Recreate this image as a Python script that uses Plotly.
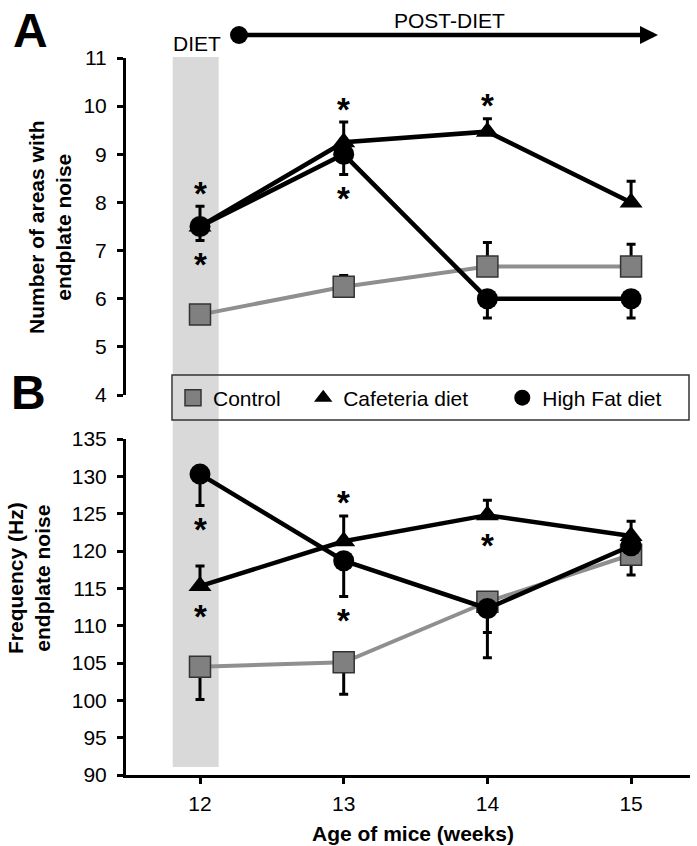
import plotly.graph_objects as go

# ---------------- data ----------------
weeks = [12, 13, 14, 15]
tick_labels = ["12", "13", "14", "15"]

# Panel A: Number of areas with endplate noise
ctrl_A = [5.67, 6.25, 6.67, 6.67]
ctrl_A_up = [0.15, 0.23, 0.50, 0.46]
caf_A = [7.5, 9.25, 9.47, 8.0]
caf_A_up = [0.42, 0.42, 0.27, 0.44]
hf_A = [7.5, 9.0, 6.0, 6.0]
hf_A_down = [0.29, 0.42, 0.40, 0.40]

# Panel B: Frequency (Hz) endplate noise
ctrl_B = [104.5, 105.1, 113.2, 119.5]
ctrl_B_down = [4.4, 4.3, 4.1, 2.7]
caf_B = [115.3, 121.3, 124.8, 122.0]
caf_B_up = [2.7, 3.4, 2.0, 2.0]
hf_B = [130.3, 118.7, 112.3, 120.7]
hf_B_down = [4.2, 4.8, 6.6, 1.0]

series_names = ["Control", "Cafeteria diet", "High Fat diet"]

# significance markers: (week index, series, side)
sig_A = [(0, "caf", "above"), (0, "hf", "below"), (1, "caf", "above"),
         (1, "hf", "below"), (2, "caf", "above")]
sig_B = [(0, "hf", "below"), (0, "caf", "below"), (1, "caf", "above"),
         (1, "hf", "below"), (2, "caf", "below")]

# ---------------- styling ----------------
W, H = 697, 846
FONT = "Liberation Sans, Arial, sans-serif"
zeros = [0, 0, 0, 0]


def px(x):
    return x / W


def py(y):
    return 1 - y / H


styles = {
    "ctrl": dict(line=dict(color="#8f8f8f", width=4),
                 marker=dict(symbol="square", size=21, color="#808080",
                             line=dict(color="#333333", width=1.5))),
    "caf": dict(line=dict(color="black", width=4.5),
                marker=dict(symbol="triangle-up", size=20, color="black")),
    "hf": dict(line=dict(color="black", width=4.5),
               marker=dict(symbol="circle", size=21, color="black")),
}

fig = go.Figure()


def add_series(key, x, y, up, down, yaxis):
    st = styles[key]
    fig.add_trace(go.Scatter(
        x=x, y=y, mode="lines+markers", line=st["line"], marker=st["marker"],
        error_y=dict(type="data", symmetric=False, array=up, arrayminus=down,
                     color="black", thickness=3, width=4.5),
        xaxis="x", yaxis=yaxis, showlegend=False, hoverinfo="x+y"))


add_series("ctrl", weeks, ctrl_A, ctrl_A_up, zeros, "y")
add_series("caf", weeks, caf_A, caf_A_up, zeros, "y")
add_series("hf", weeks, hf_A, zeros, hf_A_down, "y")
add_series("ctrl", weeks, ctrl_B, zeros, ctrl_B_down, "y2")
add_series("caf", weeks, caf_B, caf_B_up, zeros, "y2")
add_series("hf", weeks, hf_B, zeros, hf_B_down, "y2")

# legend entries (marker only)
pads = ["\u00a0" * 3, "\u00a0" * 5, "\u00a0" * 4]
for key, name, pad in zip(["ctrl", "caf", "hf"], series_names, pads):
    st = styles[key]
    fig.add_trace(go.Scatter(x=[None], y=[None], mode="markers",
                             marker=st["marker"], name=name + pad,
                             xaxis="x", yaxis="y2", showlegend=True))

# significance asterisks computed from data
vals = {
    "y": {"ctrl": (ctrl_A, ctrl_A_up, zeros), "caf": (caf_A, caf_A_up, zeros),
          "hf": (hf_A, zeros, hf_A_down)},
    "y2": {"ctrl": (ctrl_B, zeros, ctrl_B_down), "caf": (caf_B, caf_B_up, zeros),
           "hf": (hf_B, zeros, hf_B_down)},
}
annotations = []
for yref, sigs in (("y", sig_A), ("y2", sig_B)):
    for i, key, side in sigs:
        v, up, dn = vals[yref][key]
        if side == "above":
            tip = v[i] + up[i]
            shift = 19 + (10 if up[i] == 0 else 0)
        else:
            tip = v[i] - dn[i]
            shift = -(18 + (6 if dn[i] == 0 else 0))
        annotations.append(dict(x=weeks[i], y=tip, xref="x", yref=yref,
                                text="*", showarrow=False, yshift=shift - 6,
                                font=dict(family=FONT, size=33, color="black",
                                          weight="bold")))

# text annotations
def txt(x, y, text, size, bold=False, angle=0):
    return dict(x=px(x), y=py(y), xref="paper", yref="paper", text=text,
                showarrow=False, textangle=angle, xanchor="center", yanchor="middle",
                font=dict(family=FONT, size=size, color="black",
                          weight="bold" if bold else "normal"))


annotations += [
    txt(30, 30, "A", 48, True),
    txt(29, 392, "B", 48, True),
    txt(197, 44, "DIET", 21),
    txt(449, 21, "POST-DIET", 21),
    txt(50, 227, "Number of areas with<br>endplate noise", 21, True, -90),
    txt(29, 578, "Frequency (Hz)<br>endplate noise", 21, True, -90),
    txt(413, 833, "Age of mice (weeks)", 21, True),
    dict(x=px(658), y=py(35), xref="paper", yref="paper",
         ax=-(658 - 240), ay=0, axref="pixel", ayref="pixel",
         text="", showarrow=True, arrowhead=2, arrowsize=0.8,
         arrowwidth=4.5, arrowcolor="black", standoff=0, startstandoff=0),
]

shapes = [
    dict(type="rect", xref="x", yref="paper", x0=11.81, x1=12.13,
         y0=py(767), y1=py(57), fillcolor="#d9d9d9", line=dict(width=0),
         layer="below"),
    dict(type="rect", xref="paper", yref="paper", x0=px(172), x1=px(689),
         y0=py(420), y1=py(375), line=dict(color="#333333", width=1.5),
         fillcolor="rgba(0,0,0,0)"),
    dict(type="circle", xref="paper", yref="paper", x0=px(230), x1=px(248),
         y0=py(44), y1=py(26), fillcolor="black", line=dict(color="black", width=0)),
]

axis_common = dict(showline=True, linecolor="black", linewidth=3, ticks="outside",
                   ticklen=6, tickwidth=3, tickcolor="black", showgrid=False,
                   zeroline=False, automargin=False,
                   tickfont=dict(family=FONT, size=21, color="black"))

fig.update_layout(
    template="none",
    width=W, height=H, autosize=False,
    margin=dict(l=0, r=0, t=0, b=0, pad=0, autoexpand=False),
    paper_bgcolor="white", plot_bgcolor="rgba(0,0,0,0)",
    font=dict(family=FONT, color="black"),
    xaxis=dict(domain=[px(126), px(690)], range=[11.485, 15.41], anchor="y2",
               tickmode="array", tickvals=weeks, ticktext=tick_labels,
               ticklabelstandoff=2, **axis_common),
    yaxis=dict(domain=[py(395), py(58)], range=[4, 11], dtick=1, anchor="x",
               ticklabelstandoff=6, **axis_common),
    yaxis2=dict(domain=[py(775), py(439)], range=[90, 135], dtick=5, anchor="x",
                ticklabelstandoff=6, **axis_common),
    legend=dict(orientation="h", x=px(173), xanchor="left", y=py(398),
                yanchor="middle", bgcolor="rgba(0,0,0,0)", borderwidth=0,
                font=dict(family=FONT, size=21, color="black")),
    annotations=annotations,
    shapes=shapes,
)

fig.write_html("out.html", config={"displayModeBar": False},
               post_script="document.body.style.margin='0';"
                           "document.body.style.overflow='hidden';")
